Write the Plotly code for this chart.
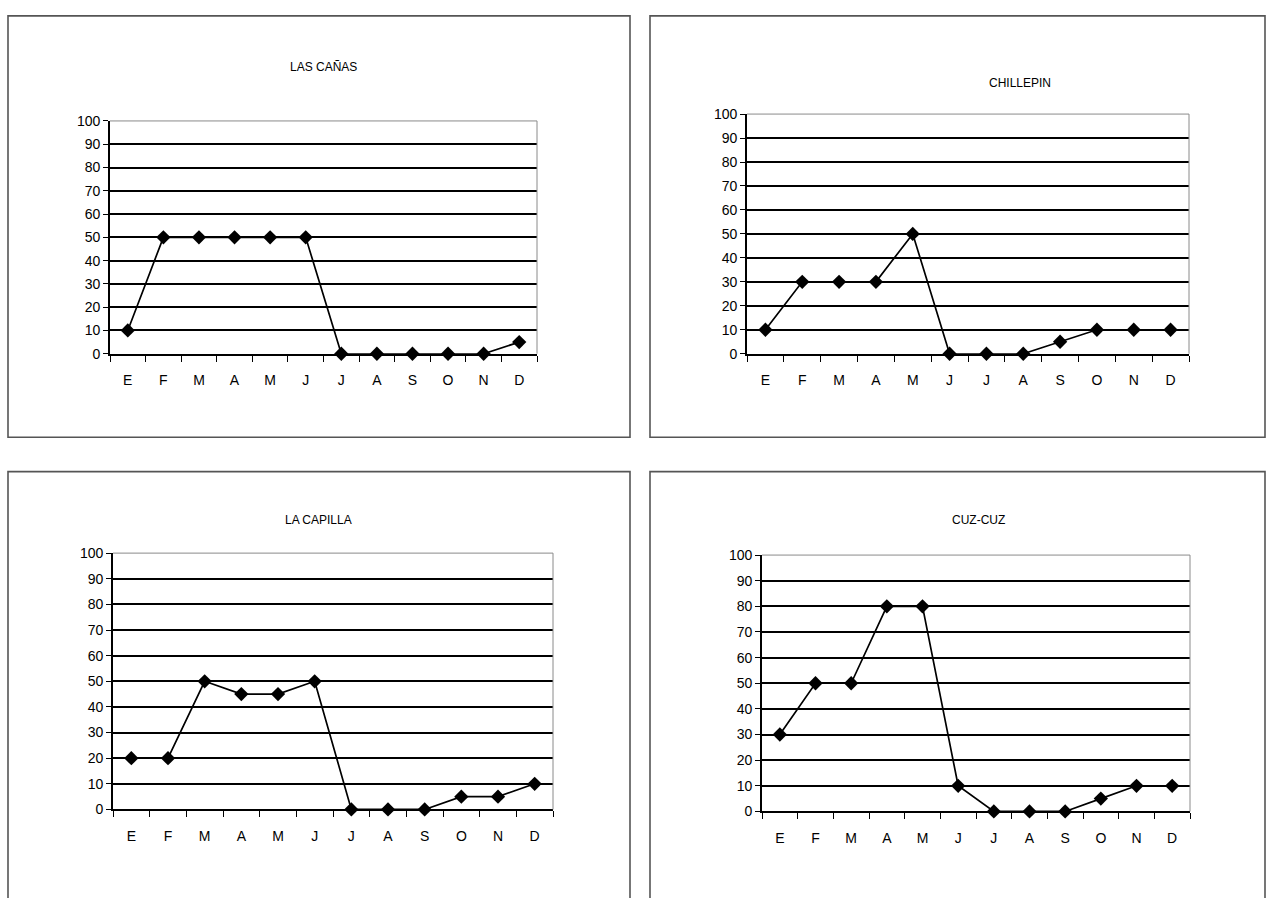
import plotly.graph_objects as go

# Monthly values per locality (E = enero ... D = diciembre)
months = ["E", "F", "M", "A", "M", "J", "J", "A", "S", "O", "N", "D"]
titles = ["LAS CAÑAS", "CHILLEPIN", "LA CAPILLA", "CUZ-CUZ"]
las_canas = [10, 50, 50, 50, 50, 50, 0, 0, 0, 0, 0, 5]
chillepin = [10, 30, 30, 30, 50, 0, 0, 0, 5, 10, 10, 10]
la_capilla = [20, 20, 50, 45, 45, 50, 0, 0, 0, 5, 5, 10]
cuz_cuz = [30, 50, 50, 80, 80, 10, 0, 0, 0, 5, 10, 10]
y_ticks = list(range(0, 101, 10))

series = [las_canas, chillepin, la_capilla, cuz_cuz]

W, H = 1267, 898
FONT = "Liberation Sans, Arial, sans-serif"

# panel geometry in pixels: plot box (left, right, top, bottom), outer frame, title centre
panels = [
    dict(plot=(110, 537, 115, 352), frame=(8, 630, 8, 437), title=(323, 60)),
    dict(plot=(747, 1189, 108, 352), frame=(650, 1265, 8, 437), title=(1020, 76)),
    dict(plot=(113, 553, 555, 816), frame=(8, 630, 472, 910), title=(318, 521)),
    dict(plot=(762, 1190, 557, 818), frame=(650, 1265, 472, 910), title=(978, 521)),
]


def px(x):
    return x / W


def py(y):
    return 1 - y / H


fig = go.Figure()
layout = dict(
    width=W, height=H,
    margin=dict(l=0, r=0, t=0, b=0),
    paper_bgcolor="white", plot_bgcolor="white",
    showlegend=False,
    font=dict(family=FONT, color="black"),
)
shapes = []
annotations = []

xpos = list(range(len(months)))
bounds = [i - 0.5 for i in range(len(months) + 1)]

for i, (p, vals, title) in enumerate(zip(panels, series, titles)):
    sfx = "" if i == 0 else str(i + 1)
    l, r, t, b = p["plot"]
    fig.add_trace(go.Scatter(
        x=xpos, y=vals, mode="lines+markers",
        line=dict(color="black", width=1.7),
        marker=dict(symbol="diamond", size=11, color="black"),
        xaxis="x" + sfx, yaxis="y" + sfx, cliponaxis=False,
    ))
    layout["xaxis" + sfx] = dict(
        domain=[px(l), px(r)], anchor="y" + sfx,
        range=[-0.5, len(months) - 0.5],
        tickmode="array", tickvals=xpos, ticktext=months,
        ticks="outside", ticklen=13, tickcolor="rgba(0,0,0,0)",
        minor=dict(tickmode="array", tickvals=bounds, ticks="outside",
                   ticklen=6, tickcolor="black", tickwidth=1.3),
        showgrid=False, zeroline=False,
        showline=True, linecolor="black", linewidth=1.6,
        tickfont=dict(size=14, family=FONT, color="black"),
        fixedrange=True,
    )
    layout["yaxis" + sfx] = dict(
        domain=[py(b), py(t)], anchor="x" + sfx,
        range=[0, 100], tickmode="array", tickvals=y_ticks,
        ticks="outside", ticklen=5, tickcolor="black", tickwidth=1.3,
        showgrid=True, gridcolor="black", gridwidth=1.5,
        zeroline=False,
        showline=True, linecolor="black", linewidth=1.6,
        tickfont=dict(size=14, family=FONT, color="black"),
        fixedrange=True,
    )
    # light border on top and right of the plot box
    shapes.append(dict(type="line", xref="paper", yref="paper",
                       x0=px(l), x1=px(r), y0=py(t), y1=py(t),
                       line=dict(color="#8a8a8a", width=1)))
    shapes.append(dict(type="line", xref="paper", yref="paper",
                       x0=px(r), x1=px(r), y0=py(t), y1=py(b),
                       line=dict(color="#8a8a8a", width=1)))
    # outer chart frame
    fl, fr, ft, fb = p["frame"]
    shapes.append(dict(type="rect", xref="paper", yref="paper",
                       x0=px(fl), x1=px(fr), y0=py(fb), y1=py(ft),
                       line=dict(color="#555555", width=1.6)))
    tx, ty = p["title"]
    annotations.append(dict(text=title, xref="paper", yref="paper",
                            x=px(tx), y=py(ty), xanchor="center", yanchor="middle",
                            showarrow=False, font=dict(size=12, family=FONT, color="black")))

layout["shapes"] = shapes
layout["annotations"] = annotations
fig.update_layout(**layout)
fig.write_html("out.html")
